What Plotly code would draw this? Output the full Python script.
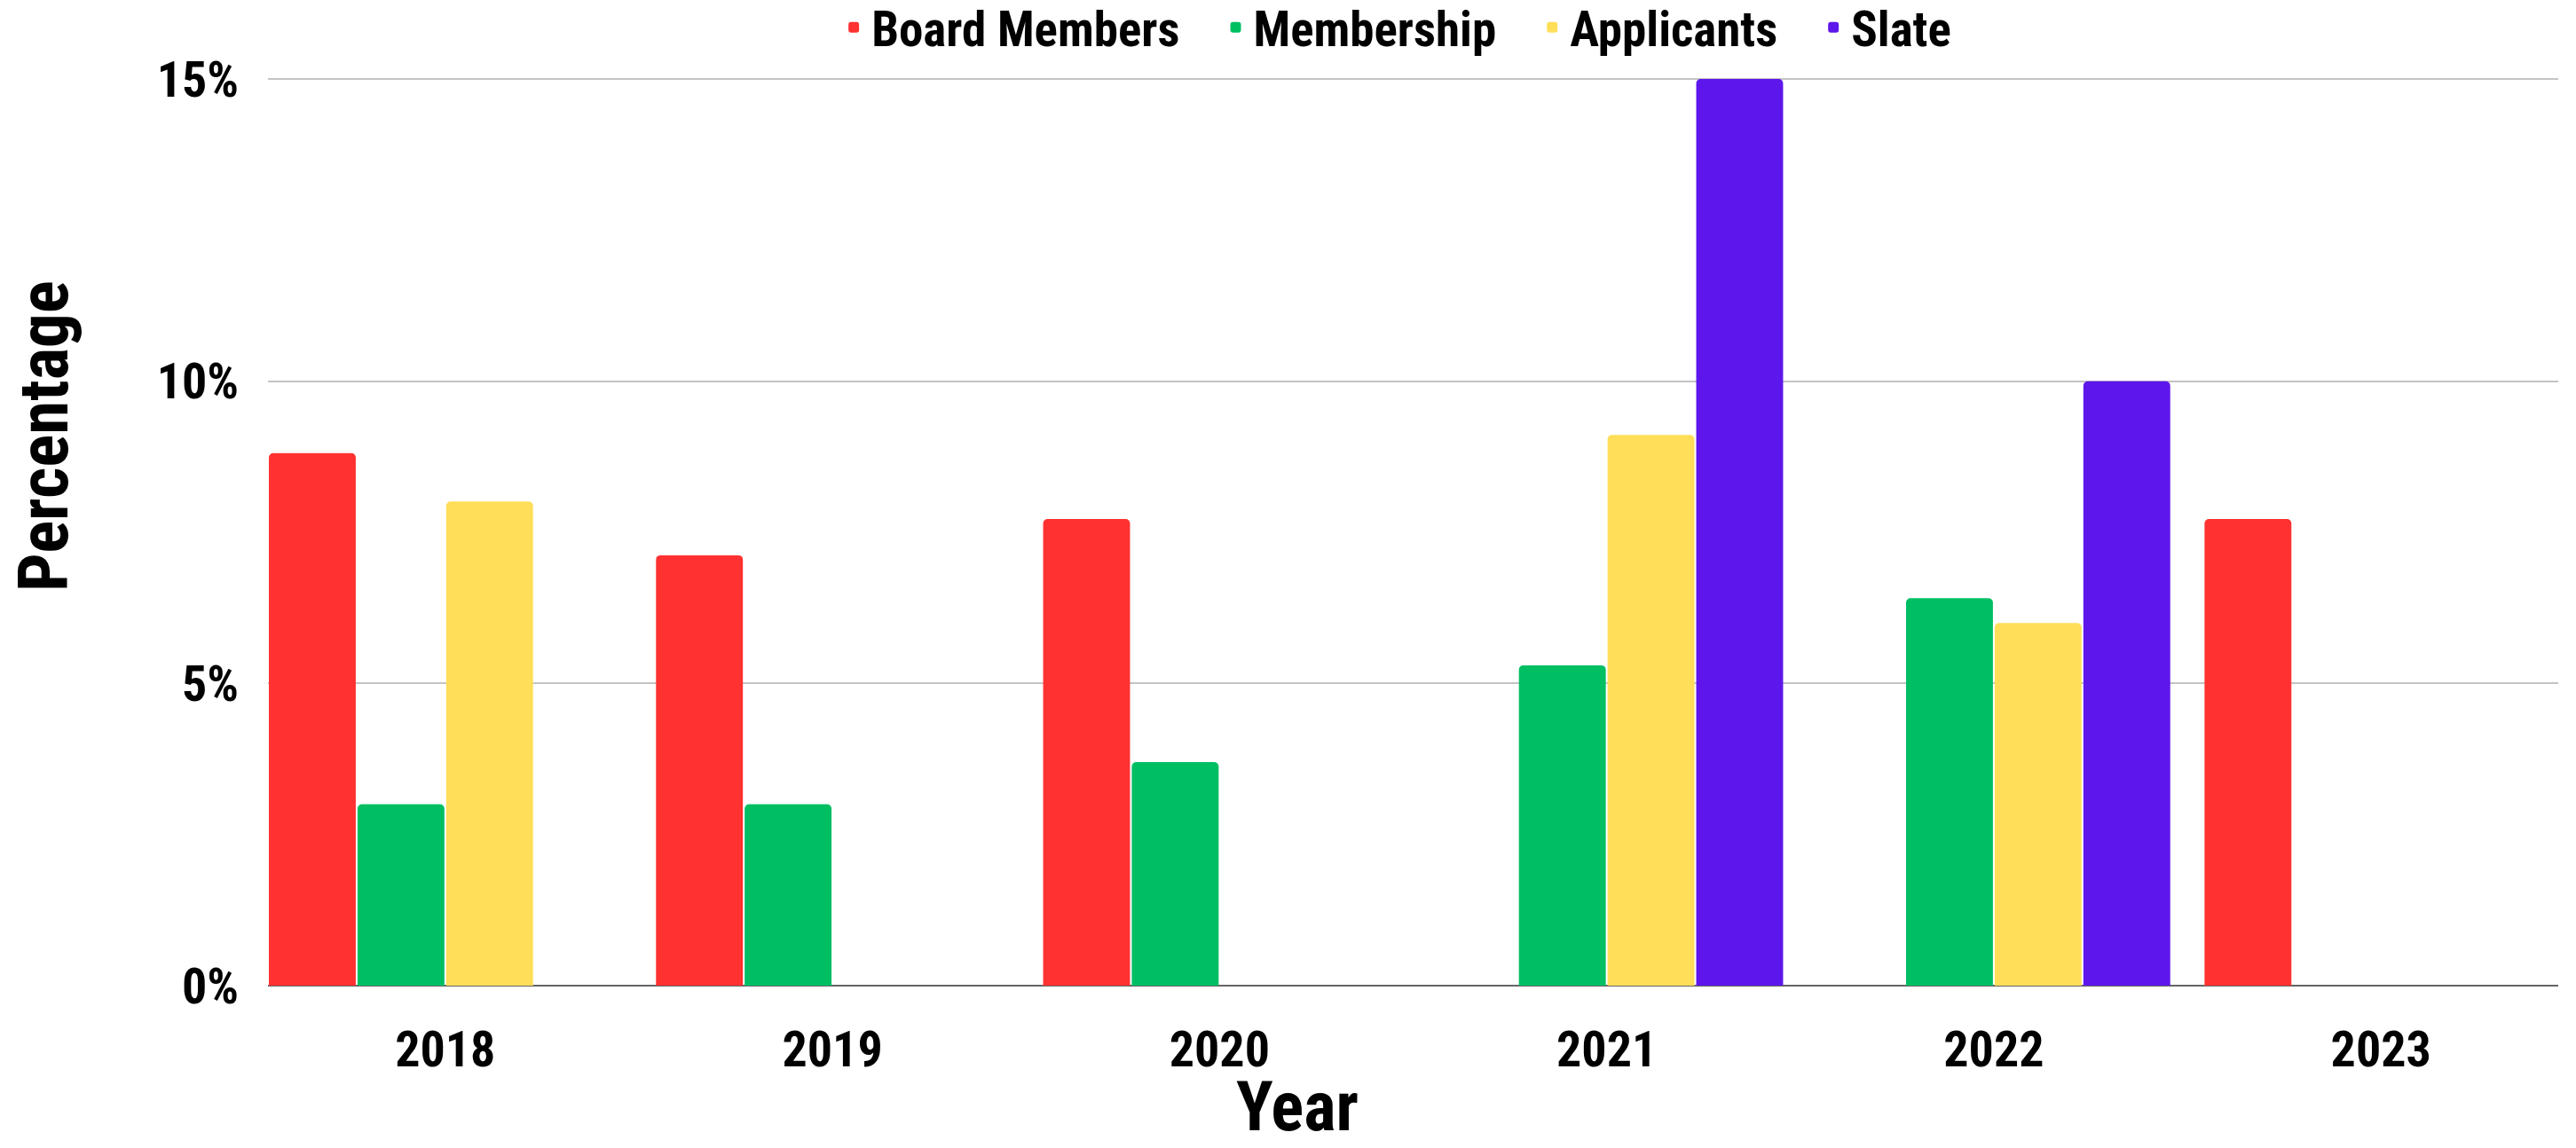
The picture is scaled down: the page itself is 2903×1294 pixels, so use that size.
import plotly.graph_objects as go

years = ["2018", "2019", "2020", "2021", "2022", "2023"]
board_members = [8.81, 7.12, 7.72, None, None, 7.72]
membership = [3.0, 3.0, 3.7, 5.3, 6.41, None]
applicants = [8.01, None, None, 9.11, 6.0, None]
slate = [None, None, None, 15.0, 10.0, None]

series_names = ["Board Members", "Membership", "Applicants", "Slate"]
series_colors = ["#FF3131", "#00BF63", "#FFDE59", "#5E17EB"]
y_ticks = [0, 5, 10, 15]
y_tick_labels = ["0%", "5%", "10%", "15%"]

FONT = "Roboto Condensed, Liberation Sans Narrow, Roboto, sans-serif"
PAD = "\u00a0\u00a0\u00a0"

fig = go.Figure()
all_vals = [board_members, membership, applicants, slate]
for i, (name, vals, col) in enumerate(zip(series_names, all_vals, series_colors)):
    label = name + (PAD if i < len(series_names) - 1 else "")
    fig.add_trace(go.Bar(
        x=years, y=vals, name=label,
        marker=dict(color=col, cornerradius=5, line=dict(width=0)),
    ))

fig.update_layout(
    width=2903, height=1294,
    barmode="group", bargap=0.084, bargroupgap=0.02,
    paper_bgcolor="white", plot_bgcolor="white",
    margin=dict(l=302, r=20, t=87, b=183, autoexpand=False),
    font=dict(family=FONT, size=56, color="black"),
    showlegend=True,
    legend=dict(
        orientation="h", x=0.4925, xanchor="center", y=1.0547, yanchor="middle",
        font=dict(family=FONT, size=55, color="black", weight="bold"),
        bgcolor="rgba(0,0,0,0)", itemwidth=30, traceorder="normal",
    ),
    xaxis=dict(
        type="category", range=[-0.458, 5.458],
        showgrid=False, showline=False, ticks="",
        tickfont=dict(family=FONT, size=56, color="black", weight="bold"),
        ticklabelstandoff=34,
    ),
    yaxis=dict(
        range=[0, 15.03], tickvals=y_ticks, ticktext=y_tick_labels,
        showgrid=True, gridcolor="#c4c4c4", gridwidth=2,
        zeroline=True, zerolinecolor="#666666", zerolinewidth=2,
        showline=False, ticks="",
        tickfont=dict(family=FONT, size=56, color="black", weight="bold"),
        ticklabelstandoff=32,
    ),
    annotations=[
        dict(text="Percentage", textangle=-90, xref="paper", yref="paper",
             x=-(302 - 50) / 2581, y=(1111 - 492) / 1024, xanchor="center", yanchor="middle",
             showarrow=False, font=dict(family=FONT, size=77, color="black", weight="bold")),
        dict(text="Year", xref="paper", yref="paper",
             x=(1462 - 302) / 2581, y=-(1248 - 1111) / 1024, xanchor="center", yanchor="middle",
             showarrow=False, font=dict(family=FONT, size=77, color="black", weight="bold")),
    ],
)

fig.write_html(
    "out.html",
    config={"displayModeBar": False},
    post_script="document.body.style.margin='0';document.body.style.overflow='hidden';",
)
